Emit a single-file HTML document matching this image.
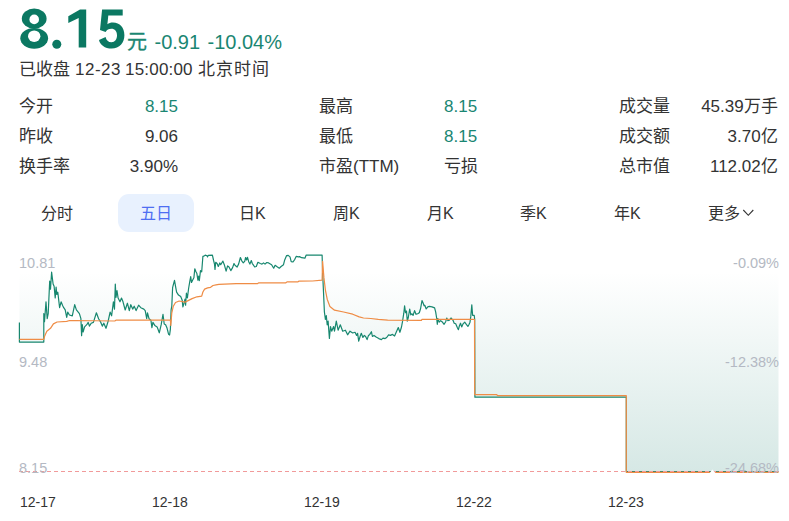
<!DOCTYPE html>
<html lang="zh-CN"><head><meta charset="utf-8">
<style>
html,body{margin:0;padding:0;background:#fff;}
body{width:789px;height:521px;position:relative;overflow:hidden;font-family:"Liberation Sans",sans-serif;color:#333;}
.a{position:absolute;white-space:nowrap;line-height:1;}
.big{font-size:56px;font-weight:bold;color:#0f7a65;letter-spacing:-1px;}
.chg{font-size:20px;color:#1a8672;}
.sub{font-size:17px;color:#333;}
.lb{font-size:17px;color:#333;}
.v{font-size:17px;color:#333;}
.g{color:#1a8672;}
.r{text-align:right;}
.tab{font-size:16px;color:#333;}
.pill{position:absolute;left:118px;top:194px;width:76px;height:38px;border-radius:11px;background:#e8f1fe;}
.ax{font-size:14.5px;color:#b4b9c3;}
.dt{font-size:14px;color:#333;}
</style></head><body>
<svg class="a" style="left:0;top:0;" width="130" height="55"><g fill="#0b7862">
<ellipse cx="34.2" cy="18.6" rx="12.4" ry="10.1"/><ellipse cx="34.2" cy="38.3" rx="13.9" ry="10.4"/>
<circle cx="56.8" cy="44.3" r="4.5"/>
<path d="M80,9.5 L86.2,9.5 L86.2,47.6 L78.7,47.6 L78.7,18.1 L68.3,23 L68.3,16.3 Z"/>
<path d="M102.1,9.5 L122.7,9.5 L122.7,15.6 L108.3,15.6 L107.4,24.2 C108.8,23.3 110.6,22.6 113.0,22.6 C119.8,22.6 124.4,27.6 124.4,35.3 C124.4,43.0 119.6,48.6 111.6,48.6 C105.0,48.6 99.8,44.8 99.0,40.0 L105.6,36.9 C106.2,40.1 108.4,42.2 111.4,42.2 C115.0,42.2 117.0,39.4 117.0,35.3 C117.0,31.4 114.8,28.8 111.4,28.8 C108.6,28.8 107.0,29.9 105.6,31.9 L100.0,30.0 Z"/>
</g><g fill="#fff"><ellipse cx="34.2" cy="19.4" rx="4.8" ry="4.9"/><ellipse cx="34.2" cy="36.2" rx="6.2" ry="5.8"/></g></svg>
<div class="a chg" style="left:126.5px;top:31.6px;-webkit-text-stroke:0.35px #1a8672;">元</div>
<div class="a chg" style="left:154.5px;top:31.8px;">-0.91</div><div class="a chg" style="left:207.5px;top:31.8px;">-10.04%</div>
<div class="a sub" style="left:19px;top:61px;">已收盘</div><div class="a sub" style="left:75px;top:61px;letter-spacing:0.5px;">12-23</div><div class="a sub" style="left:125px;top:61px;letter-spacing:0.2px;">15:00:00</div><div class="a sub" style="left:197.5px;top:61px;letter-spacing:1px;">北京时间</div>

<div class="a lb" style="left:19px;top:98px;">今开</div>
<div class="a lb" style="left:19px;top:128px;">昨收</div>
<div class="a lb" style="left:19px;top:158px;">换手率</div>
<div class="a v g r" style="right:611px;top:98px;">8.15</div>
<div class="a v r" style="right:611px;top:128px;">9.06</div>
<div class="a v r" style="right:611px;top:158px;">3.90%</div>

<div class="a lb" style="left:319px;top:98px;">最高</div>
<div class="a lb" style="left:319px;top:128px;">最低</div>
<div class="a lb" style="left:319px;top:158px;">市盈(TTM)</div>
<div class="a v g" style="left:444px;top:98px;">8.15</div>
<div class="a v g" style="left:444px;top:128px;">8.15</div>
<div class="a v" style="left:444px;top:158px;">亏损</div>

<div class="a lb" style="left:619px;top:98px;">成交量</div>
<div class="a lb" style="left:619px;top:128px;">成交额</div>
<div class="a lb" style="left:619px;top:158px;">总市值</div>
<div class="a v r" style="right:11.3px;top:98px;">45.39万手</div>
<div class="a v r" style="right:11.3px;top:128px;">3.70亿</div>
<div class="a v r" style="right:11.3px;top:158px;">112.02亿</div>

<div class="pill"></div>
<div class="a tab" style="left:41px;top:206px;">分时</div>
<div class="a tab" style="left:140px;top:206px;color:#4e6ef2;">五日</div>
<div class="a tab" style="left:239px;top:206px;">日K</div>
<div class="a tab" style="left:333px;top:206px;">周K</div>
<div class="a tab" style="left:427px;top:206px;">月K</div>
<div class="a tab" style="left:520px;top:206px;">季K</div>
<div class="a tab" style="left:614px;top:206px;">年K</div>
<div class="a tab" style="left:708px;top:206px;">更多</div>
<svg class="a" style="left:741px;top:207px;" width="16" height="12"><path d="M2.3,3 L7.3,8.3 L12.3,3" fill="none" stroke="#333" stroke-width="1.1"/></svg>

<svg class="a" style="left:0;top:0;" width="789" height="521">
<defs><linearGradient id="gf" gradientUnits="userSpaceOnUse" x1="0" y1="272" x2="0" y2="471.5">
<stop offset="0" stop-color="#ffffff" stop-opacity="1"/>
<stop offset="1" stop-color="#d6e8e5" stop-opacity="1"/>
</linearGradient></defs>
<path d="M19.4,322.4 L19.4,342.1 L43.8,342.1 L43.8,313.6 L44.5,321.7 L46.0,301.8 L47.2,318.7 L48.2,313.6 L49.7,281.0 L50.5,289.2 L51.6,272.2 L53.1,284.0 L54.1,286.2 L55.2,298.0 L56.1,287.0 L56.8,294.4 L57.8,292.2 L59.6,307.7 L61.1,301.8 L62.6,305.5 L63.7,307.7 L65.2,309.9 L66.7,317.3 L67.7,312.1 L69.4,315.0 L72.3,315.8 L74.7,304.7 L76.4,309.9 L79.4,313.6 L80.9,318.7 L81.6,335.7 L82.3,324.7 L83.1,332.0 L84.6,326.9 L86.8,324.7 L88.2,322.4 L89.4,326.1 L91.2,323.2 L93.4,322.4 L96.4,312.8 L98.6,318.7 L100.8,322.4 L102.3,326.1 L103.8,323.2 L106.0,328.3 L108.2,321.0 L110.1,312.1 L111.6,315.8 L113.4,301.8 L114.5,309.1 L115.3,284.0 L116.0,297.3 L117.0,290.7 L118.1,298.1 L120.0,301.8 L121.5,298.1 L123.0,301.8 L125.2,310.0 L127.4,303.2 L129.3,310.6 L130.8,304.7 L132.7,309.1 L134.2,306.2 L136.1,310.6 L138.6,305.2 L140.8,307.7 L143.8,309.1 L145.2,310.6 L146.7,318.7 L147.5,312.8 L149.0,318.7 L150.9,320.2 L151.9,327.6 L152.9,322.4 L154.8,325.4 L157.1,326.9 L159.3,332.8 L161.2,324.7 L163.0,314.3 L164.2,323.9 L165.6,324.7 L167.1,328.3 L168.6,334.3 L169.6,335.0 L170.4,329.1 L171.1,309.9 L171.8,306.2 L172.6,287.7 L173.3,284.8 L174.5,280.3 L175.5,286.2 L176.6,292.2 L178.5,295.1 L180.7,296.6 L182.2,300.3 L182.9,306.9 L184.4,301.8 L185.0,299.2 L185.6,305.1 L186.4,293.2 L187.4,298.0 L188.6,288.5 L189.8,281.3 L190.7,276.6 L191.5,282.5 L192.7,280.1 L193.9,277.8 L194.8,268.8 L196.0,271.8 L196.9,273.6 L197.9,280.1 L198.7,276.0 L199.3,280.7 L200.5,270.6 L201.7,271.8 L202.9,256.3 L204.0,256.1 L205.2,255.1 L207.0,255.7 L207.6,256.9 L208.2,255.4 L212.4,255.1 L213.6,260.5 L214.5,264.1 L215.0,269.4 L215.7,262.3 L217.1,263.5 L218.3,266.5 L219.8,262.9 L220.7,264.7 L222.9,261.1 L224.3,264.7 L226.1,271.2 L227.6,265.9 L229.0,267.0 L230.8,270.6 L232.6,267.6 L234.0,263.5 L235.0,265.3 L237.1,267.0 L238.6,264.1 L240.4,257.5 L241.9,261.1 L243.3,262.9 L244.8,261.1 L245.6,257.5 L246.6,259.9 L247.5,257.3 L248.7,261.7 L249.9,264.1 L251.3,260.5 L252.3,263.5 L253.1,264.7 L254.7,267.0 L256.3,266.5 L257.9,262.3 L260.3,263.5 L262.0,264.1 L263.5,262.9 L265.0,264.1 L266.8,262.5 L268.6,262.9 L271.6,264.7 L273.7,268.2 L275.1,265.3 L277.5,267.0 L279.3,268.2 L281.1,266.5 L283.5,264.7 L284.7,259.9 L286.5,255.7 L288.2,255.4 L290.0,256.9 L291.2,261.7 L293.0,262.0 L294.8,259.3 L296.3,256.3 L298.4,256.9 L299.5,256.6 L301.6,257.7 L304.9,258.2 L306.2,255.1 L322.1,255.1 L322.6,271.9 L323.5,292.0 L324.4,312.0 L325.4,319.3 L326.3,315.7 L327.2,324.8 L328.1,321.1 L329.4,338.5 L330.5,326.6 L331.7,331.2 L333.6,326.6 L334.5,331.2 L336.3,321.1 L338.1,330.2 L340.3,324.8 L342.7,331.2 L345.4,330.2 L347.6,334.8 L350.0,331.2 L352.7,333.0 L355.0,332.3 L356.6,335.4 L357.6,333.3 L358.7,341.2 L360.1,336.5 L361.3,333.3 L362.9,337.5 L364.3,335.4 L365.6,336.5 L367.1,339.6 L368.5,335.4 L369.8,334.4 L371.4,331.7 L372.4,336.5 L374.0,335.4 L376.1,337.0 L378.8,338.6 L381.4,339.6 L383.0,338.1 L385.1,338.6 L386.7,337.5 L388.6,334.9 L390.4,335.4 L392.5,334.4 L394.6,336.0 L396.2,332.3 L398.3,327.5 L399.9,332.3 L401.5,327.0 L402.5,321.7 L403.8,313.2 L404.6,305.8 L405.5,312.7 L406.5,311.1 L407.3,321.2 L408.3,317.5 L409.7,309.0 L410.8,314.8 L412.0,313.8 L413.1,315.4 L414.6,310.6 L416.0,314.3 L417.7,313.7 L419.3,312.7 L420.6,308.5 L422.0,300.6 L423.0,302.7 L424.1,305.8 L424.8,305.3 L426.2,309.0 L427.8,306.9 L429.4,306.4 L432.0,306.9 L434.6,307.9 L435.7,312.2 L436.7,318.5 L437.3,324.3 L437.8,318.5 L439.2,322.2 L440.6,320.6 L442.0,321.7 L444.1,324.3 L445.7,321.7 L446.8,318.0 L447.8,320.6 L449.4,320.1 L451.0,318.0 L452.9,320.1 L454.2,323.2 L455.7,323.8 L457.3,327.5 L458.4,329.6 L459.4,325.9 L460.5,323.2 L461.7,326.9 L463.1,323.8 L464.7,322.2 L466.3,324.3 L467.9,326.4 L468.9,324.8 L470.0,322.2 L470.8,316.4 L471.8,304.8 L472.6,315.3 L474.2,315.3 L474.7,319.5 L474.9,397.2 L626.3,397.2 L626.3,471.5 L778.5,471.5 L778.5,251.7 L19.4,251.7 Z" fill="url(#gf)" stroke="none"/>
<path d="M19.4,322.4 L19.4,342.1 L43.8,342.1 L43.8,313.6 L44.5,321.7 L46.0,301.8 L47.2,318.7 L48.2,313.6 L49.7,281.0 L50.5,289.2 L51.6,272.2 L53.1,284.0 L54.1,286.2 L55.2,298.0 L56.1,287.0 L56.8,294.4 L57.8,292.2 L59.6,307.7 L61.1,301.8 L62.6,305.5 L63.7,307.7 L65.2,309.9 L66.7,317.3 L67.7,312.1 L69.4,315.0 L72.3,315.8 L74.7,304.7 L76.4,309.9 L79.4,313.6 L80.9,318.7 L81.6,335.7 L82.3,324.7 L83.1,332.0 L84.6,326.9 L86.8,324.7 L88.2,322.4 L89.4,326.1 L91.2,323.2 L93.4,322.4 L96.4,312.8 L98.6,318.7 L100.8,322.4 L102.3,326.1 L103.8,323.2 L106.0,328.3 L108.2,321.0 L110.1,312.1 L111.6,315.8 L113.4,301.8 L114.5,309.1 L115.3,284.0 L116.0,297.3 L117.0,290.7 L118.1,298.1 L120.0,301.8 L121.5,298.1 L123.0,301.8 L125.2,310.0 L127.4,303.2 L129.3,310.6 L130.8,304.7 L132.7,309.1 L134.2,306.2 L136.1,310.6 L138.6,305.2 L140.8,307.7 L143.8,309.1 L145.2,310.6 L146.7,318.7 L147.5,312.8 L149.0,318.7 L150.9,320.2 L151.9,327.6 L152.9,322.4 L154.8,325.4 L157.1,326.9 L159.3,332.8 L161.2,324.7 L163.0,314.3 L164.2,323.9 L165.6,324.7 L167.1,328.3 L168.6,334.3 L169.6,335.0 L170.4,329.1 L171.1,309.9 L171.8,306.2 L172.6,287.7 L173.3,284.8 L174.5,280.3 L175.5,286.2 L176.6,292.2 L178.5,295.1 L180.7,296.6 L182.2,300.3 L182.9,306.9 L184.4,301.8 L185.0,299.2 L185.6,305.1 L186.4,293.2 L187.4,298.0 L188.6,288.5 L189.8,281.3 L190.7,276.6 L191.5,282.5 L192.7,280.1 L193.9,277.8 L194.8,268.8 L196.0,271.8 L196.9,273.6 L197.9,280.1 L198.7,276.0 L199.3,280.7 L200.5,270.6 L201.7,271.8 L202.9,256.3 L204.0,256.1 L205.2,255.1 L207.0,255.7 L207.6,256.9 L208.2,255.4 L212.4,255.1 L213.6,260.5 L214.5,264.1 L215.0,269.4 L215.7,262.3 L217.1,263.5 L218.3,266.5 L219.8,262.9 L220.7,264.7 L222.9,261.1 L224.3,264.7 L226.1,271.2 L227.6,265.9 L229.0,267.0 L230.8,270.6 L232.6,267.6 L234.0,263.5 L235.0,265.3 L237.1,267.0 L238.6,264.1 L240.4,257.5 L241.9,261.1 L243.3,262.9 L244.8,261.1 L245.6,257.5 L246.6,259.9 L247.5,257.3 L248.7,261.7 L249.9,264.1 L251.3,260.5 L252.3,263.5 L253.1,264.7 L254.7,267.0 L256.3,266.5 L257.9,262.3 L260.3,263.5 L262.0,264.1 L263.5,262.9 L265.0,264.1 L266.8,262.5 L268.6,262.9 L271.6,264.7 L273.7,268.2 L275.1,265.3 L277.5,267.0 L279.3,268.2 L281.1,266.5 L283.5,264.7 L284.7,259.9 L286.5,255.7 L288.2,255.4 L290.0,256.9 L291.2,261.7 L293.0,262.0 L294.8,259.3 L296.3,256.3 L298.4,256.9 L299.5,256.6 L301.6,257.7 L304.9,258.2 L306.2,255.1 L322.1,255.1 L322.6,271.9 L323.5,292.0 L324.4,312.0 L325.4,319.3 L326.3,315.7 L327.2,324.8 L328.1,321.1 L329.4,338.5 L330.5,326.6 L331.7,331.2 L333.6,326.6 L334.5,331.2 L336.3,321.1 L338.1,330.2 L340.3,324.8 L342.7,331.2 L345.4,330.2 L347.6,334.8 L350.0,331.2 L352.7,333.0 L355.0,332.3 L356.6,335.4 L357.6,333.3 L358.7,341.2 L360.1,336.5 L361.3,333.3 L362.9,337.5 L364.3,335.4 L365.6,336.5 L367.1,339.6 L368.5,335.4 L369.8,334.4 L371.4,331.7 L372.4,336.5 L374.0,335.4 L376.1,337.0 L378.8,338.6 L381.4,339.6 L383.0,338.1 L385.1,338.6 L386.7,337.5 L388.6,334.9 L390.4,335.4 L392.5,334.4 L394.6,336.0 L396.2,332.3 L398.3,327.5 L399.9,332.3 L401.5,327.0 L402.5,321.7 L403.8,313.2 L404.6,305.8 L405.5,312.7 L406.5,311.1 L407.3,321.2 L408.3,317.5 L409.7,309.0 L410.8,314.8 L412.0,313.8 L413.1,315.4 L414.6,310.6 L416.0,314.3 L417.7,313.7 L419.3,312.7 L420.6,308.5 L422.0,300.6 L423.0,302.7 L424.1,305.8 L424.8,305.3 L426.2,309.0 L427.8,306.9 L429.4,306.4 L432.0,306.9 L434.6,307.9 L435.7,312.2 L436.7,318.5 L437.3,324.3 L437.8,318.5 L439.2,322.2 L440.6,320.6 L442.0,321.7 L444.1,324.3 L445.7,321.7 L446.8,318.0 L447.8,320.6 L449.4,320.1 L451.0,318.0 L452.9,320.1 L454.2,323.2 L455.7,323.8 L457.3,327.5 L458.4,329.6 L459.4,325.9 L460.5,323.2 L461.7,326.9 L463.1,323.8 L464.7,322.2 L466.3,324.3 L467.9,326.4 L468.9,324.8 L470.0,322.2 L470.8,316.4 L471.8,304.8 L472.6,315.3 L474.2,315.3 L474.7,319.5 L474.9,397.2 L626.3,397.2 L626.3,471.5 L778.5,471.5" fill="none" stroke="#17876f" stroke-width="1.2" stroke-linejoin="round"/>
<path d="M19.4,339.4 L43.8,339.4 L44.5,336.5 L46.8,331.3 L50.5,328.3 L53.4,323.9 L57.1,322.0 L66.7,321.4 L68.9,320.7 L74.8,320.5 L114.8,321.0 L116.3,320.0 L170.4,320.2 L170.8,325.4 L171.8,312.8 L173.3,306.2 L175.5,302.5 L179.2,301.0 L185.0,302.2 L188.6,300.4 L192.1,298.6 L196.9,296.8 L201.7,296.2 L202.9,292.0 L204.6,289.1 L207.6,287.9 L210.6,287.3 L213.0,285.5 L216.0,284.9 L218.9,284.3 L236.2,283.7 L257.3,283.7 L258.5,282.9 L285.9,282.8 L287.0,281.9 L297.8,281.9 L299.0,281.1 L312.6,281.0 L322.1,280.1 L322.6,261.3 L323.9,277.4 L325.4,290.1 L327.2,299.2 L329.9,306.5 L334.5,310.2 L343.6,312.0 L352.7,314.2 L359.2,316.9 L363.5,318.0 L370.8,318.5 L378.2,319.4 L387.7,320.1 L421.4,320.4 L422.0,319.3 L474.5,319.3 L474.7,394.6 L496.8,394.6 L497.5,395.7 L626.3,395.7 L626.3,472.4 L778.5,472.4" fill="none" stroke="#ef8c45" stroke-width="1.2" stroke-linejoin="round"/>
<line x1="19" y1="471.5" x2="779" y2="471.5" stroke="#f19a9a" stroke-width="1" stroke-dasharray="4,3"/>
<path d="M708.3,475 Q710.5,472 712.3,469.4 Q714.5,472 717.5,475 Z" fill="#fff"/>
</svg>

<div class="a ax" style="left:19px;top:256px;">10.81</div>
<div class="a ax" style="left:19px;top:355px;">9.48</div>
<div class="a ax" style="left:19px;top:461px;">8.15</div>
<div class="a ax r" style="right:10px;top:256px;">-0.09%</div>
<div class="a ax r" style="right:10px;top:355px;">-12.38%</div>
<div class="a ax r" style="right:10px;top:461px;">-24.68%</div>

<div class="a dt" style="left:20px;top:495px;">12-17</div>
<div class="a dt" style="left:152px;top:495px;">12-18</div>
<div class="a dt" style="left:304px;top:495px;">12-19</div>
<div class="a dt" style="left:456px;top:495px;">12-22</div>
<div class="a dt" style="left:608px;top:495px;">12-23</div>
</body></html>
